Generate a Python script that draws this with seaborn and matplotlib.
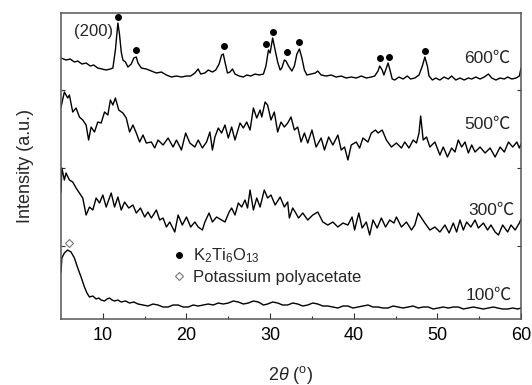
import numpy as np
import pandas as pd
import matplotlib
matplotlib.use("Agg")
import matplotlib.pyplot as plt
import seaborn as sns

# XRD patterns (2theta in degrees, intensity in a.u., curves already offset)
tt_600 = [5.0, 5.6, 6.1, 6.6, 7.0, 7.5, 8.0, 8.5, 8.9, 9.4, 9.9, 10.4, 10.9, 11.2, 11.5, 11.8, 12.0, 12.2,
          12.4, 12.7, 13.0, 13.4, 13.7, 14.0, 14.2, 14.6, 15.2, 15.8, 16.4, 17.0, 17.6, 18.2, 18.8, 19.4,
          20.0, 20.5, 21.0, 21.4, 21.7, 22.2, 22.6, 23.1, 23.5, 23.9, 24.2, 24.4, 24.6, 24.9, 25.2, 25.5,
          25.8, 26.3, 26.8, 27.2, 27.7, 28.2, 28.7, 29.2, 29.5, 29.8, 30.0, 30.3, 30.6, 30.9, 31.2, 31.4,
          31.7, 31.9, 32.2, 32.6, 32.9, 33.2, 33.5, 33.8, 34.1, 34.4, 34.9, 35.4, 35.7, 36.1, 36.7, 37.3,
          37.9, 38.5, 39.1, 39.7, 40.3, 40.9, 41.5, 42.1, 42.5, 42.9, 43.1, 43.4, 43.6, 43.9, 44.1, 44.3,
          44.6, 44.9, 45.4, 45.9, 46.4, 46.8, 47.3, 47.8, 48.2, 48.5, 48.8, 49.0, 49.4, 49.8, 50.3, 50.8,
          51.3, 51.7, 52.2, 52.7, 53.2, 53.7, 54.1, 54.6, 55.1, 55.6, 56.1, 56.5, 57.0, 57.5, 58.0, 58.4,
          58.9, 59.4, 59.8, 60.0]
int_600 = [261, 259, 260, 257, 258, 255, 256, 253, 254, 251, 250, 249, 250, 251, 269, 296, 284, 267,
           259, 257, 252, 255, 261, 262, 256, 251, 250, 248, 246, 247, 244, 242, 243, 242,
           243, 243, 246, 250, 245, 246, 249, 247, 249, 255, 264, 265, 257, 246, 247, 250,
           245, 243, 242, 244, 243, 245, 244, 245, 253, 269, 266, 281, 269, 257, 249, 251,
           259, 258, 253, 248, 253, 265, 270, 261, 249, 244, 245, 246, 248, 244, 243, 244,
           242, 243, 241, 242, 241, 243, 241, 242, 243, 248, 253, 249, 244, 251, 256, 250,
           240, 239, 242, 240, 243, 240, 241, 244, 253, 262, 253, 243, 239, 241, 239, 242,
           240, 243, 239, 241, 239, 241, 240, 242, 240, 242, 245, 241, 239, 241, 240, 242,
           240, 241, 243, 251]

tt_500 = [5.0, 5.4, 5.8, 6.0, 6.4, 6.8, 7.2, 7.6, 8.0, 8.3, 8.6, 9.0, 9.4, 9.8, 10.2, 10.6, 10.9, 11.2,
          11.5, 11.9, 12.4, 12.8, 13.2, 13.6, 14.0, 14.4, 14.8, 15.2, 15.8, 16.2, 16.6, 17.2, 17.8, 18.4,
          18.8, 19.4, 19.9, 20.4, 21.0, 21.4, 21.9, 22.4, 22.8, 23.1, 23.4, 23.8, 24.2, 24.6, 25.0, 25.4,
          25.8, 26.4, 26.8, 27.2, 27.6, 28.0, 28.4, 28.8, 29.0, 29.4, 29.7, 30.1, 30.5, 30.9, 31.3, 31.7,
          32.1, 32.5, 32.9, 33.3, 33.7, 34.1, 34.5, 35.0, 35.5, 36.1, 36.5, 37.0, 37.5, 38.1, 38.5, 38.9,
          39.3, 39.7, 40.3, 40.7, 41.1, 41.7, 42.1, 42.6, 42.9, 43.4, 43.9, 44.5, 45.1, 45.7, 46.1, 46.6,
          47.1, 47.5, 47.8, 48.0, 48.3, 48.7, 49.1, 49.7, 50.3, 50.7, 51.2, 51.7, 52.1, 52.5, 52.9, 53.3,
          53.7, 54.1, 54.5, 55.1, 55.7, 56.3, 56.9, 57.5, 58.0, 58.5, 59.0, 59.5, 59.8, 60.0]
int_500 = [212, 227, 221, 224, 207, 211, 202, 199, 194, 179, 192, 187, 197, 196, 207, 204, 219, 214,
           221, 209, 206, 201, 187, 194, 186, 177, 184, 176, 177, 171, 179, 174, 181, 172,
           179, 169, 186, 176, 172, 179, 171, 177, 187, 169, 182, 191, 186, 194, 181, 192,
           179, 196, 191, 197, 189, 211, 201, 209, 202, 217, 214, 199, 207, 187, 197, 192,
           196, 202, 189, 192, 177, 186, 176, 189, 172, 181, 169, 182, 174, 184, 169, 172,
           159, 174, 177, 171, 181, 177, 186, 189, 186, 189, 179, 172, 176, 171, 177, 171,
           179, 176, 186, 203, 179, 182, 172, 177, 164, 172, 162, 171, 167, 179, 172, 177,
           166, 174, 167, 172, 166, 171, 162, 172, 167, 177, 172, 177, 171, 175]

tt_300 = [5.0, 5.1, 5.4, 5.6, 6.0, 6.4, 6.8, 7.2, 7.6, 8.0, 8.4, 8.8, 9.2, 9.6, 10.0, 10.4, 11.0, 11.4,
          11.8, 12.2, 12.6, 13.1, 13.6, 14.0, 14.5, 15.0, 15.4, 15.8, 16.4, 16.8, 17.2, 17.6, 18.0, 18.6,
          19.0, 19.5, 20.0, 20.5, 21.0, 21.4, 21.9, 22.2, 22.7, 23.1, 23.6, 24.2, 24.6, 25.1, 25.4, 25.8,
          26.2, 26.6, 27.0, 27.3, 27.6, 28.0, 28.4, 28.8, 29.3, 29.7, 30.1, 30.6, 31.2, 31.7, 32.1, 32.3,
          32.7, 33.0, 33.4, 33.9, 34.5, 35.1, 35.7, 36.3, 36.9, 37.5, 38.1, 38.7, 39.3, 39.8, 40.1, 40.6,
          41.0, 41.5, 41.9, 42.3, 42.8, 43.3, 43.8, 44.3, 44.8, 45.1, 45.7, 46.3, 46.9, 47.3, 47.7, 48.1,
          48.5, 49.1, 49.7, 50.3, 50.9, 51.4, 51.9, 52.3, 52.7, 53.1, 53.5, 54.0, 54.5, 54.9, 55.5, 56.0,
          56.4, 56.9, 57.3, 57.8, 58.4, 58.8, 59.3, 59.8, 60.0]
int_300 = [127, 151, 139, 146, 139, 137, 131, 126, 121, 104, 112, 109, 121, 116, 124, 112, 126, 112,
           122, 109, 117, 111, 114, 106, 111, 102, 107, 101, 109, 99, 101, 92, 97, 87,
           104, 94, 102, 92, 97, 92, 89, 97, 106, 97, 102, 99, 97, 107, 111, 104,
           116, 112, 119, 111, 129, 109, 121, 112, 129, 121, 124, 114, 122, 112, 117, 101,
           111, 107, 101, 106, 99, 104, 107, 97, 94, 97, 92, 96, 94, 102, 89, 106,
           91, 97, 84, 99, 91, 101, 92, 99, 96, 102, 92, 97, 89, 94, 106, 101,
           96, 89, 92, 87, 94, 86, 96, 87, 99, 89, 97, 92, 99, 91, 96, 89,
           94, 87, 84, 94, 87, 94, 89, 96, 100]

tt_100 = [5.0, 5.1, 5.4, 5.8, 6.2, 6.6, 7.0, 7.4, 7.8, 8.1, 8.4, 8.8, 9.2, 9.5, 9.8, 10.2, 10.5, 10.8,
          11.1, 11.4, 11.8, 12.2, 12.7, 13.2, 13.7, 14.2, 14.8, 15.4, 16.0, 16.6, 17.2, 17.8, 18.4, 19.0,
          19.6, 20.2, 20.8, 21.4, 22.0, 22.6, 23.2, 23.8, 24.4, 25.0, 25.6, 26.2, 26.8, 27.4, 28.0, 28.6,
          29.2, 29.7, 30.3, 30.9, 31.5, 32.1, 32.7, 33.3, 33.9, 34.5, 35.1, 35.7, 36.3, 36.9, 37.5, 38.1,
          38.7, 39.3, 39.9, 40.5, 41.1, 41.7, 42.3, 42.9, 43.5, 44.1, 44.7, 45.3, 45.9, 46.5, 47.1, 47.7,
          48.3, 48.9, 49.5, 50.1, 50.7, 51.3, 51.9, 52.5, 53.1, 53.7, 54.3, 54.9, 55.5, 56.1, 56.7, 57.2,
          57.8, 58.4, 59.0, 59.6, 60.0]
int_100 = [47, 61, 66, 69, 67, 61, 51, 42, 32, 26, 22, 23, 20, 21, 19, 18, 20, 21,
           19, 18, 19, 17, 18, 16, 17, 15, 14, 13, 15, 14, 12, 12, 14, 14,
           12, 12, 14, 13, 14, 15, 14, 16, 15, 16, 18, 17, 15, 16, 18, 17,
           14, 15, 17, 16, 14, 14, 16, 15, 13, 14, 16, 15, 13, 13, 12, 11,
           13, 13, 11, 12, 13, 14, 12, 12, 11, 11, 13, 12, 11, 12, 13, 11,
           12, 12, 10, 11, 12, 11, 12, 12, 10, 11, 12, 11, 10, 11, 12, 11,
           10, 10, 11, 10, 11]

# K2Ti6O13 reflections marked on the 600 C pattern
dot_tt = [11.8, 14.0, 24.5, 29.5, 30.3, 32.0, 33.5, 43.1, 44.2, 48.5]
dot_int = [302, 269, 273, 275, 287, 267, 277, 261, 262, 268]
# potassium polyacetate reflection on the 100 C pattern
dia_tt = [6.0]
dia_int = [76]

samples = ["600℃", "500℃", "300℃", "100℃"]
label_tt = [58.7, 58.8, 59.2, 58.9]
label_int = [261, 195, 109, 24]

frames = []
for name, tt, inten in zip(samples, [tt_600, tt_500, tt_300, tt_100],
                           [int_600, int_500, int_300, int_100]):
    frames.append(pd.DataFrame({"tt": tt, "I": inten, "sample": name}))
df = pd.concat(frames, ignore_index=True)

sns.set_theme(style="ticks")
plt.rcParams["font.family"] = ["Liberation Sans", "Noto Sans CJK SC", "DejaVu Sans"]
plt.rcParams["mathtext.fontset"] = "custom"
plt.rcParams["mathtext.rm"] = "Liberation Sans"
plt.rcParams["mathtext.it"] = "Liberation Sans:italic"

fig = plt.figure(figsize=(5.32, 3.85), dpi=100)
ax = fig.add_axes([0.1147, 0.1714, 0.8647, 0.7948])

sns.lineplot(data=df, x="tt", y="I", hue="sample", units="sample", estimator=None, sort=False,
             palette=["black"] * 4, linewidth=1.0, legend=False, ax=ax)

ax.plot(dot_tt, dot_int, "o", color="black", markersize=4, label=r"K$_2$Ti$_6$O$_{13}$")
ax.plot(dia_tt, dia_int, "D", markerfacecolor="white", markeredgecolor="#777777",
        markeredgewidth=0.8, markersize=4, label="Potassium polyacetate")

for name, x, y in zip(samples, label_tt, label_int):
    ax.text(x, y, name, ha="right", va="center", fontsize=12.5)
ax.text(11.2, 288, "(200)", ha="right", va="center", fontsize=12)

ax.legend(loc="upper left", bbox_to_anchor=(0.243, 0.237), frameon=False, fontsize=12,
          borderpad=0, handlelength=0.8, handletextpad=0.4, labelspacing=0.3, borderaxespad=0)

ax.set_xlim(5, 60)
ax.set_ylim(0, 306)
ax.set_xticks([10, 20, 30, 40, 50, 60])
ax.set_xticks([15, 25, 35, 45, 55], minor=True)
ax.set_yticks([73, 151, 229])
ax.set_yticklabels([])
ax.tick_params(axis="x", direction="in", length=4, width=0.8, labelsize=13, pad=6, colors="#333333",
               labelcolor="black")
ax.tick_params(axis="x", which="minor", direction="in", length=2.5, width=0.8, colors="#333333")
ax.tick_params(axis="y", direction="in", length=3, width=0.8, left=True, right=True, colors="#333333")
for s in ax.spines.values():
    s.set_visible(True)
    s.set_color("#555555")
    s.set_linewidth(1.1)

ax.set_xlabel(r"2$\it{\theta}$ ($^{\rm o}$)", fontsize=13, labelpad=14)
ax.set_ylabel("Intensity (a.u.)", fontsize=13, labelpad=16)

fig.savefig("out.png", dpi=100)
